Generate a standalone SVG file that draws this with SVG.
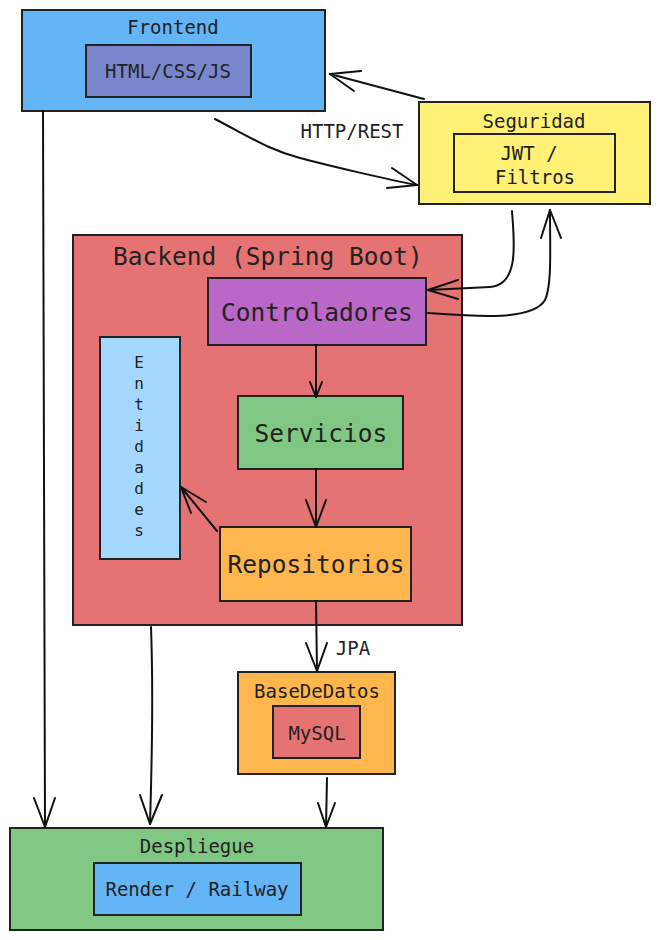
<svg xmlns="http://www.w3.org/2000/svg" width="660" height="940" viewBox="0 0 660 940">
<style>
.box{stroke:#222;stroke-width:2}
.t{font-family:"DejaVu Sans Mono","Liberation Mono",monospace;fill:#222;text-anchor:middle;dominant-baseline:central;font-size:19px}
.big{font-size:24.5px}
.ent{font-size:16px}
.c{fill:none;stroke:#111;stroke-width:2;stroke-linecap:round;stroke-linejoin:round}
</style>
<rect width="660" height="940" fill="#fff"/>
<g id="frontend">
<rect class="box" x="22" y="10" width="303" height="101" fill="#64b5f6"/>
<text class="t" x="173" y="27">Frontend</text>
<rect class="box" x="86" y="45" width="165" height="52" fill="#7986cb"/>
<text class="t" x="168" y="71">HTML/CSS/JS</text>
</g>
<g id="seguridad">
<rect class="box" x="419" y="102" width="231" height="102" fill="#fff176"/>
<text class="t" x="534" y="121">Seguridad</text>
<rect class="box" x="454" y="134" width="161" height="58" fill="#fff176"/>
<text class="t" x="529" y="153">JWT /</text>
<text class="t" x="535" y="177">Filtros</text>
</g>
<g id="backend">
<rect class="box" x="73" y="235" width="389" height="390" fill="#e57373"/>
<text class="t big" x="268" y="256">Backend (Spring Boot)</text>
</g>
<g id="controladores">
<rect class="box" x="208" y="278" width="218" height="67" fill="#ba68c8"/>
<text class="t big" x="317" y="312">Controladores</text>
</g>
<g id="servicios">
<rect class="box" x="238" y="396" width="165" height="73" fill="#81c784"/>
<text class="t big" x="321" y="433">Servicios</text>
</g>
<g id="repositorios">
<rect class="box" x="220" y="527" width="191" height="74" fill="#ffb74d"/>
<text class="t big" x="316" y="564">Repositorios</text>
</g>
<g id="entidades">
<rect class="box" x="100" y="337" width="80" height="222" fill="#a5d8ff"/>
<text class="t ent" x="139" y="362">E</text>
<text class="t ent" x="139" y="383">n</text>
<text class="t ent" x="139" y="404">t</text>
<text class="t ent" x="139" y="425">i</text>
<text class="t ent" x="139" y="446">d</text>
<text class="t ent" x="139" y="467">a</text>
<text class="t ent" x="139" y="488">d</text>
<text class="t ent" x="139" y="509">e</text>
<text class="t ent" x="139" y="530">s</text>
</g>
<g id="basededatos">
<rect class="box" x="238" y="672" width="157" height="102" fill="#ffb74d"/>
<text class="t" x="317" y="691">BaseDeDatos</text>
<rect class="box" x="273" y="706" width="87" height="52" fill="#e57373"/>
<text class="t" x="317" y="733">MySQL</text>
</g>
<g id="despliegue">
<rect class="box" x="10" y="828" width="373" height="102" fill="#81c784"/>
<text class="t" x="197" y="846">Despliegue</text>
<rect class="box" x="94" y="863" width="207" height="52" fill="#64b5f6"/>
<text class="t" x="197" y="889">Render / Railway</text>
</g>
<g id="connectors">
<path class="c" d="M215,119 C255,140 270,150 300,158 S390,180 417,185"/>
<path class="c" d="M392,168 L417,185 L387,188"/>
<text class="t" x="352" y="131">HTTP/REST</text>
<path class="c" d="M424,99 L330,74"/>
<path class="c" d="M361,71 L330,74 L354,91"/>
<path class="c" d="M512,211 C514,240 520,285 490,287 L428,290"/>
<path class="c" d="M458,280 L428,290 L458,299"/>
<path class="c" d="M428,313 C470,316 532,322 545,300 C552,285 550,250 550,210"/>
<path class="c" d="M541,238 L550,210 L561,238"/>
<path class="c" d="M316,345 L316,397"/>
<path class="c" d="M310,382 L316,397 L322,382"/>
<path class="c" d="M316,469 L316,527"/>
<path class="c" d="M306,500 L316,527 L326,500"/>
<path class="c" d="M217,531 L181,487"/>
<path class="c" d="M206,502 L181,487 L191,513"/>
<path class="c" d="M316,601 L317,671"/>
<path class="c" d="M306,643 L317,671 L327,643"/>
<text class="t" x="353" y="648">JPA</text>
<path class="c" d="M43,111 L45,827"/>
<path class="c" d="M34,798 L45,827 L55,798"/>
<path class="c" d="M151,627 C153,680 152,760 150,824"/>
<path class="c" d="M140,795 L150,824 L162,795"/>
<path class="c" d="M327,778 L326,827"/>
<path class="c" d="M318,803 L326,827 L335,803"/>
</g>
</svg>
